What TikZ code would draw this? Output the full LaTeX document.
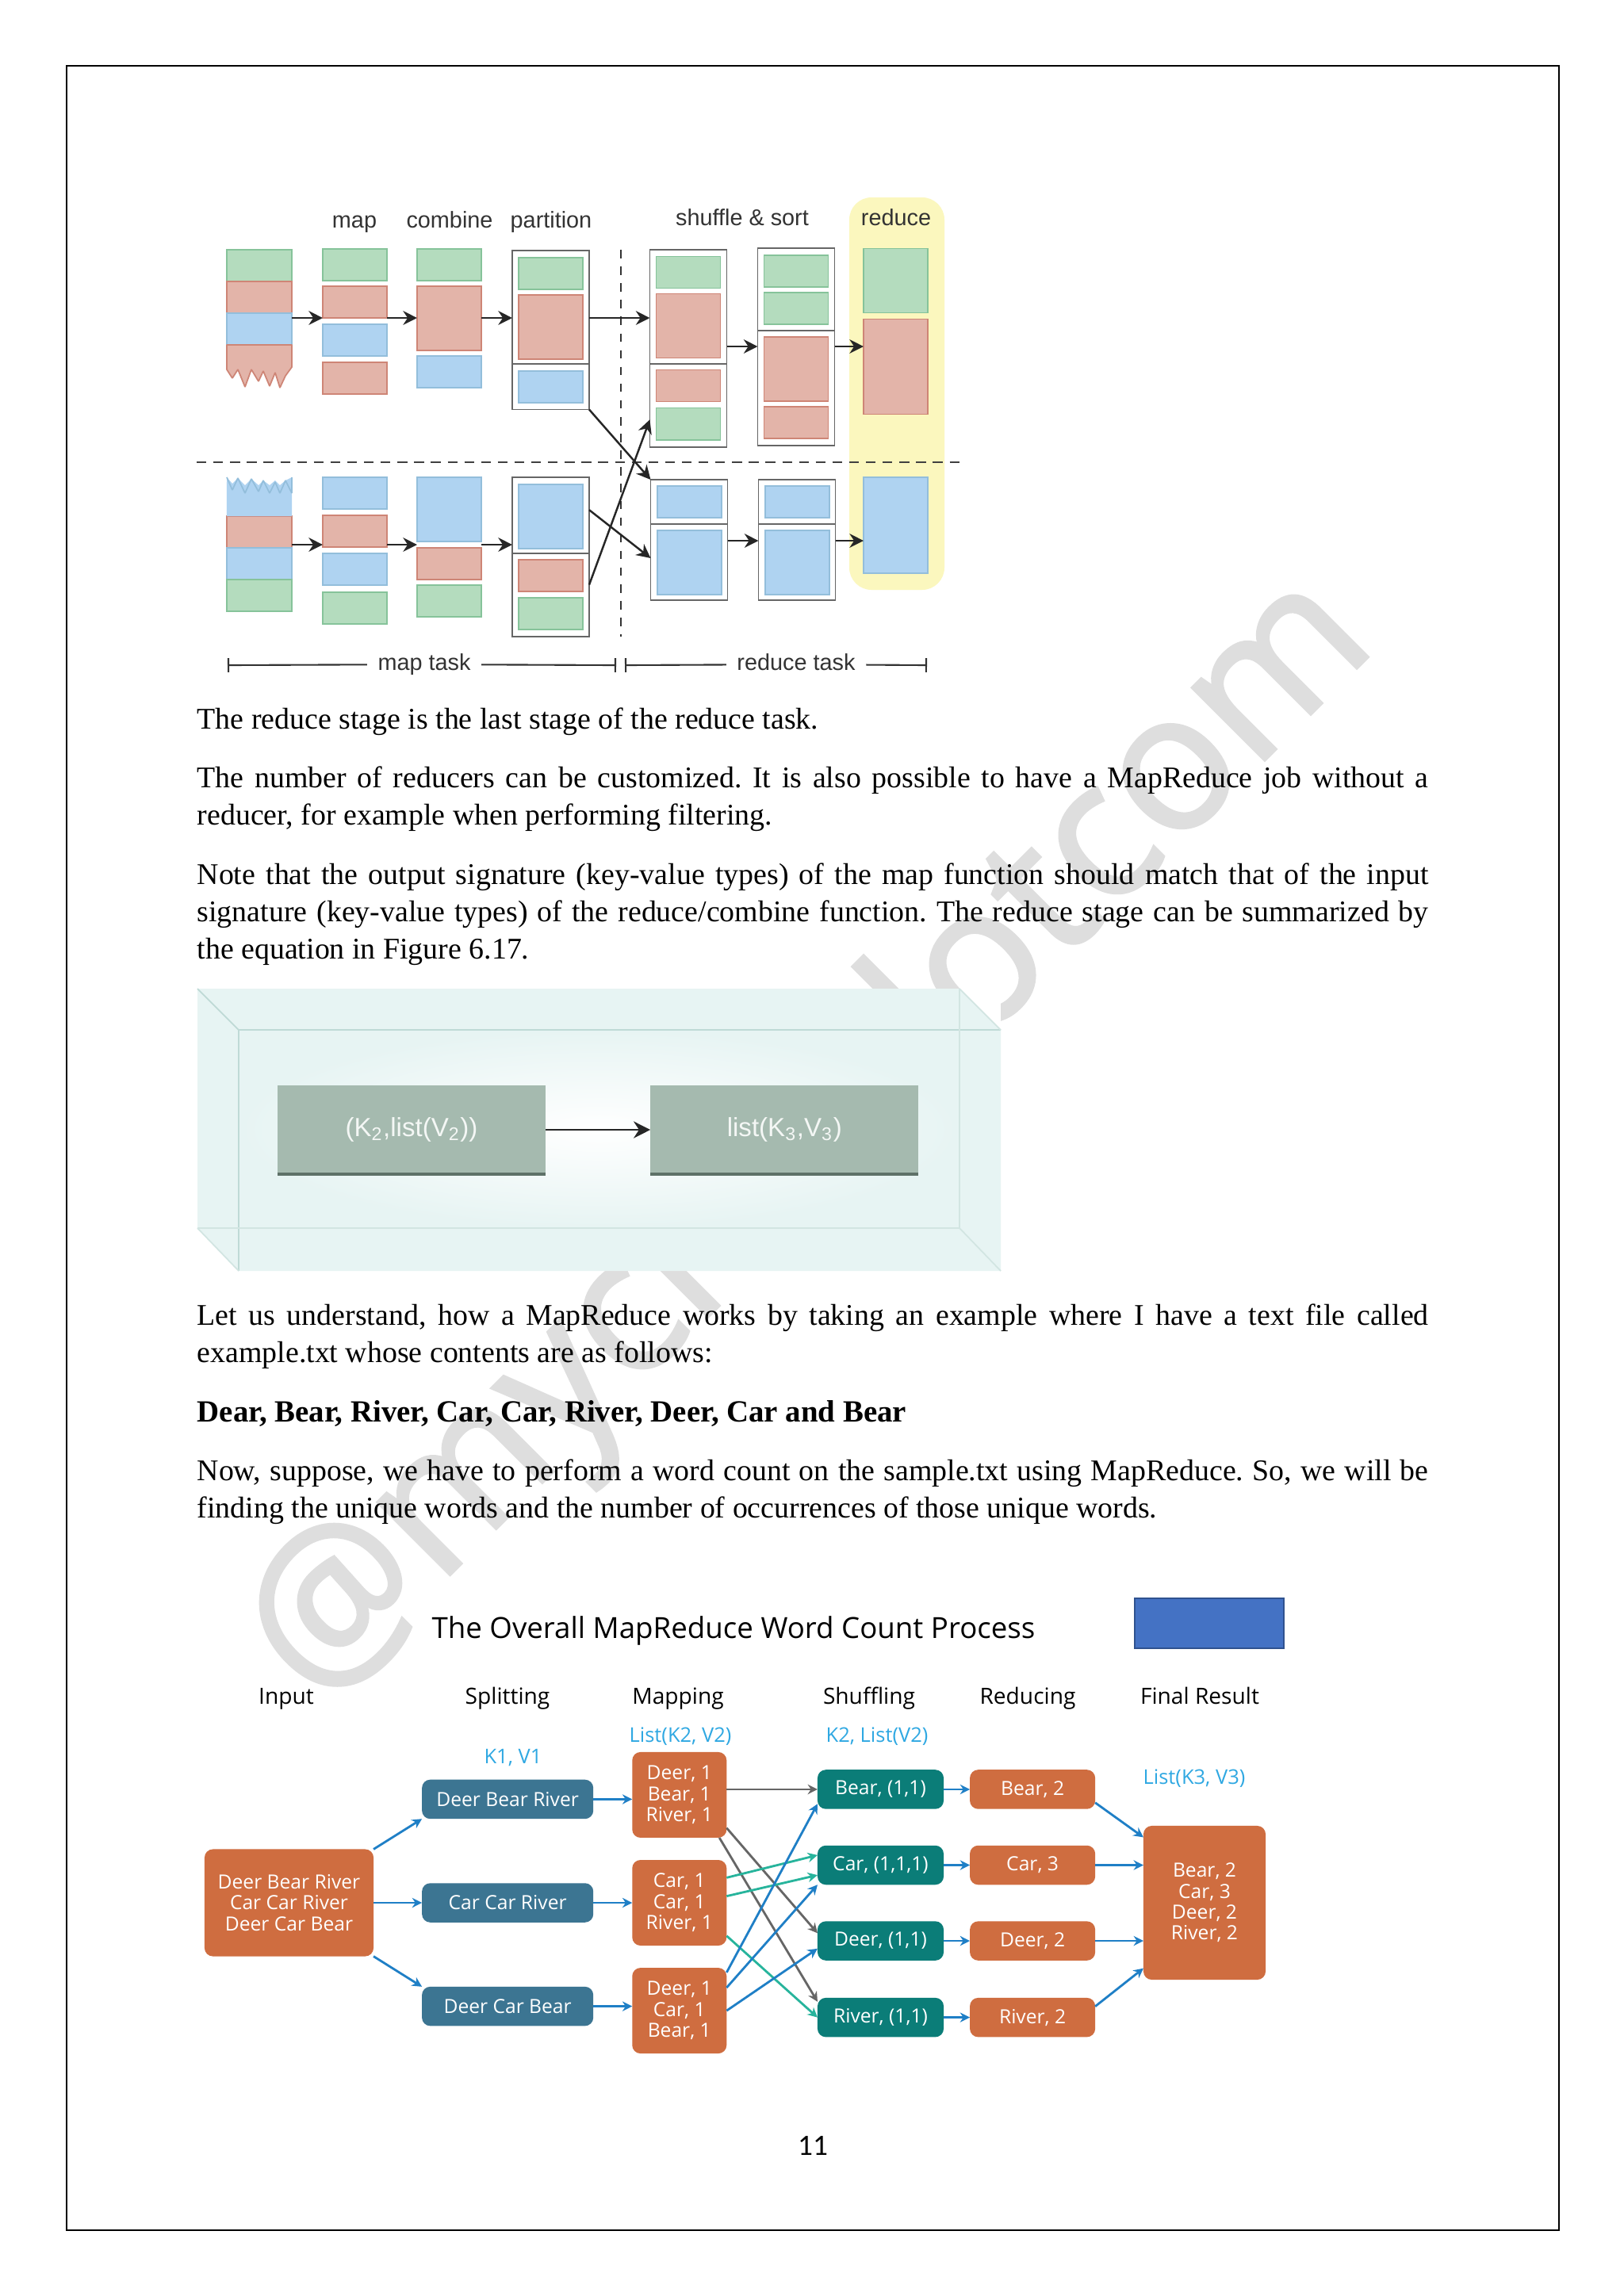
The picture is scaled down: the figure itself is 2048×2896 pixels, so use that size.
\documentclass[tikz,border=0pt]{standalone}
\usepackage{fontspec}
\setmainfont{Liberation Serif}
\newfontfamily\hvfont{Liberation Sans}
\newfontfamily\opfont{Open Sans}
\newfontfamily\cafont{Carlito}
\newfontfamily\wmfont[FakeBold=1.6]{Open Sans}
\usepackage{tikz}
\usetikzlibrary{positioning,arrows.meta}

\definecolor{gfill}{HTML}{B4DCBE}
\definecolor{gline}{HTML}{86C39A}
\definecolor{rfill}{HTML}{E3B4A9}
\definecolor{rline}{HTML}{CE8576}
\definecolor{bfill}{HTML}{AFD3F1}
\definecolor{bline}{HTML}{93BEDB}
\definecolor{paleyellow}{HTML}{FBF7BE}
\definecolor{glass}{HTML}{E7F4F3}
\definecolor{glassline}{HTML}{BFDAD6}
\definecolor{sage}{HTML}{A5BAAF}
\definecolor{sagedark}{HTML}{5E7168}
\definecolor{rust}{HTML}{CF6D40}
\definecolor{slate}{HTML}{3C7592}
\definecolor{deepteal}{HTML}{0B7D78}
\definecolor{flowblue}{HTML}{1F7FC6}
\definecolor{flowteal}{HTML}{27B49C}
\definecolor{flowgray}{HTML}{666666}
\definecolor{tagblue}{HTML}{2FA8E2}
\definecolor{patch}{HTML}{4472C4}
\definecolor{patchline}{HTML}{2F528F}
\definecolor{wmark}{HTML}{DEDEDE}

\begin{document}
\frenchspacing
\begin{tikzpicture}[x=.01cm,y=-.01cm,
        para/.style={anchor=north west,inner sep=0pt,text width=15.52cm,align=justify,font=\fontsize{10.77}{13.4}\selectfont},
        block/.style={rectangle,draw,outer sep=0pt,inner sep=0pt,minimum width=.81cm,minimum height=.4cm,line width=.5pt},
        gbox/.style={block,fill=gfill,draw=gline},
        rbox/.style={block,fill=rfill,draw=rline},
        bbox/.style={block,fill=bfill,draw=bline},
        tall/.style={minimum height=.81cm},
        frame/.style={rectangle,draw=black!60,fill=white,outer sep=0pt,inner sep=0pt,minimum width=.97cm,line width=.5pt},
        head/.style={font=\hvfont\fontsize{8.2}{9}\selectfont,text=black!80,inner sep=0pt,text height=6pt,text depth=1.7pt},
        darrow/.style={draw=black!85,line width=.7pt,-{Stealth[length=5pt,width=5pt]}},
        word/.style={rectangle,rounded corners=3pt,inner sep=0pt,outer sep=0pt,text=white,align=center,font=\opfont\fontsize{7}{7.5}\selectfont},
        orange/.style={word,fill=rust},
        split/.style={word,fill=slate,minimum width=2.16cm,minimum height=.495cm},
        mapped/.style={orange,minimum width=1.19cm,minimum height=1.08cm},
        shuffled/.style={word,fill=deepteal,minimum width=1.59cm,minimum height=.495cm},
        reduced/.style={orange,minimum width=1.58cm,minimum height=.495cm},
        stage/.style={font=\opfont\fontsize{8}{9}\selectfont,inner sep=0pt,text height=6pt,text depth=1.8pt},
        tag/.style={font=\opfont\fontsize{7.25}{8}\selectfont,text=tagblue,inner sep=0pt,text height=5.5pt,text depth=1.6pt},
        flow/.style={draw=flowblue,line width=.8pt,-{Stealth[length=3.5pt,width=3.5pt]}},
        grayflow/.style={flow,draw=flowgray},
        tealflow/.style={flow,draw=flowteal}]
        \path[use as bounding box,fill=white] (0,0) rectangle (2048,2896);
        \node[font=\wmfont\fontsize{68.5}{68}\selectfont,text=wmark,rotate=45,inner sep=0pt] (wm) at (1025,1440) {@mycloudotcom};
        \draw[line width=.7pt] (84,83) rectangle (1966,2813);

        \fill[paleyellow] (1071,249) [rounded corners=8pt] rectangle (1191,744);

        \node[gbox,minimum width=.82cm] (a1) at (327,335) {};
        \node[rbox,minimum width=.82cm] (a2) [below=0cm of a1] {};
        \node[bbox,minimum width=.82cm] (a3) [below=0cm of a2] {};
        \draw[rline,fill=rfill,line width=.5pt,line join=bevel] (a3.south west) -- (286,466) -- (293,477) -- (300,466) -- (309,488) -- (317,466) -- (326,481) -- (332,468) -- (340,487) -- (347,470) -- (353,489) -- (360,474) -- (368,463) -- (a3.south east) -- cycle;
        \node[gbox] (b1) at (447.5,334) {};
        \node[rbox] (b2) [below=.07cm of b1] {};
        \node[bbox] (b3) [below=.08cm of b2] {};
        \node[rbox] (b4) [below=.08cm of b3] {};
        \node[gbox] (c1) at (566.5,334) {};
        \node[rbox,tall] (c2) [below=.07cm of c1] {};
        \node[bbox] (c3) [below=.07cm of c2] {};
        \node[frame,minimum height=1.43cm] (p1) at (694.5,387.5) {};
        \node[frame,minimum height=.575cm] (p2) [below=0cm of p1] {};
        \node[gbox] (d1) at (694.5,345) {};
        \node[rbox,tall] (d2) [below=.07cm of d1] {};
        \node[bbox] (d3) [below=.15cm of d2] {};
        \node[frame,minimum height=1.44cm] (q1) at (868,387) {};
        \node[frame,minimum height=1.05cm] (q2) [below=0cm of q1] {};
        \node[gbox] (e1) at (868,343.5) {};
        \node[rbox,tall] (e2) [below=.07cm of e1] {};
        \node[rbox] (e3) [below=.15cm of e2] {};
        \node[gbox] (e4) [below=.08cm of e3] {};
        \node[frame,minimum height=1.04cm] (r1) at (1004,365) {};
        \node[frame,minimum height=1.45cm] (r2) [below=0cm of r1] {};
        \node[gbox] (f1) at (1004,342) {};
        \node[gbox] (f2) [below=.07cm of f1] {};
        \node[rbox,tall] (f3) [below=.16cm of f2] {};
        \node[rbox] (f4) [below=.07cm of f3] {};
        \node[gbox,tall] (g1) at (1129.5,354) {};
        \node[rbox,minimum height=1.2cm] (g2) [below=.08cm of g1] {};

        \node[rbox,minimum width=.82cm] (la2) at (327,671) {};
        \node[bbox,minimum width=.82cm] (la3) [below=0cm of la2] {};
        \node[gbox,minimum width=.82cm] (la4) [below=0cm of la3] {};
        \fill[bfill] (la2.north west) -- (286,602) -- (293,610) -- (300,603) -- (309,612) -- (317,604) -- (326,612) -- (332,606) -- (340,612) -- (347,606) -- (353,612) -- (360,606) -- (368,602) -- (la2.north east) -- cycle;
        \draw[bline,line width=.5pt,line join=bevel] (286,602) -- (293,618) -- (300,603) -- (309,622) -- (317,604) -- (326,620) -- (332,606) -- (340,622) -- (347,608) -- (353,622) -- (360,606) -- (368,622) -- (368,602);
        \node[bbox] (lb1) at (447.5,622) {};
        \node[rbox] (lb2) [below=.08cm of lb1] {};
        \node[bbox] (lb3) [below=.08cm of lb2] {};
        \node[gbox] (lb4) [below=.09cm of lb3] {};
        \node[bbox,tall] (lc1) at (566.5,642.5) {};
        \node[rbox] (lc2) [below=.08cm of lc1] {};
        \node[gbox] (lc3) [below=.07cm of lc2] {};
        \node[frame,minimum height=.96cm] (lp1) at (694.5,650) {};
        \node[frame,minimum height=1.05cm] (lp2) [below=0cm of lp1] {};
        \node[bbox,tall] (ld1) at (694.5,651.5) {};
        \node[rbox] (ld2) [below=.14cm of ld1] {};
        \node[gbox] (ld3) [below=.08cm of ld2] {};
        \node[frame,minimum height=.56cm] (lq1) at (869,633) {};
        \node[frame,minimum height=.96cm] (lq2) [below=0cm of lq1] {};
        \node[bbox] (le1) at (869.5,633) {};
        \node[bbox,tall] (le2) [below=.16cm of le1] {};
        \node[frame,minimum height=.56cm] (lr1) at (1005,633) {};
        \node[frame,minimum height=.96cm] (lr2) [below=0cm of lr1] {};
        \node[bbox] (lf1) at (1005.5,633) {};
        \node[bbox,tall] (lf2) [below=.16cm of lf1] {};
        \node[bbox,minimum height=1.21cm] (lg) at (1129.5,662.5) {};

        \draw[dashed,black!80,line width=.5pt] (783,315) -- (783,803);
        \draw[dash pattern=on 3.5pt off 2.5pt,black!75,line width=.6pt] (248,583) -- (1210,583);

        \coordinate (u) at (0,401);
        \coordinate (v) at (0,437);
        \coordinate (w) at (0,687);
        \coordinate (z) at (0,682);
        \foreach \x/\y in {a2/b2,b2/c2,c2/p1,p1/q1}{
            \draw[darrow] (\x.east |- u) -- (\y.west |- u);
        }
        \foreach \x/\y in {q1/r2,r2/g2}{
            \draw[darrow] (\x.east |- v) -- (\y.west |- v);
        }
        \foreach \x/\y in {la2/lb2,lb2/lc1,lc1/lp1}{
            \draw[darrow] (\x.east |- w) -- (\y.west |- w);
        }
        \foreach \x/\y in {lq2/lr2,lr2/lg}{
            \draw[darrow] (\x.east |- z) -- (\y.west |- z);
        }
        \draw[darrow] (p2.south east) -- (lq1.north west);
        \draw[darrow] (lp1.8) -- (lq2.174);
        \draw[darrow] (lp2.15) -- (q2.200);

        \node[head] (h1) at (447,280) {map};
        \node[head] (h2) at (567,280) {combine};
        \node[head] (h3) at (695,280) {partition};
        \node[head] (h4) at (936,277) {shuffle \& sort};
        \node[head] (h5) at (1130,277) {reduce};
        \node[head,inner xsep=.13cm] (mt) at (535,838) {map task};
        \node[head,inner xsep=.13cm] (rt) at (1004,838) {reduce task};
        \coordinate (m0) at (287,839);
        \coordinate (m1) at (777,839);
        \coordinate (r0) at (788,839);
        \coordinate (r3) at (1169,839);
        \draw[black!80,line width=.6pt,{Bar[width=5pt]}-] (m0) -- (mt);
        \draw[black!80,line width=.6pt,-{Bar[width=5pt]}] (mt) -- (m1);
        \draw[black!80,line width=.6pt,{Bar[width=5pt]}-] (r0) -- (rt);
        \draw[black!80,line width=.6pt,-{Bar[width=5pt]}] (rt) -- (r3);

        \node[para] (t1) at (248,892) {The reduce stage is the last stage of the reduce task.};
        \node[para] (t2) [below=.38cm of t1] {The number of reducers can be customized. It is also possible to have a MapReduce job without a\linebreak reducer, for example when performing filtering.};
        \node[para] (t3) [below=.38cm of t2] {Note that the output signature (key-value types) of the map function should match that of the input\linebreak signature (key-value types) of the reduce/combine function. The reduce stage can be summarized by\linebreak the equation in Figure 6.17.};

        \fill[white] (249,1247) rectangle (1262,1603);
        \fill[glass] (249,1247) -- (1210,1247) -- (1262,1299) -- (1262,1603) -- (301,1603) -- (249,1549) -- cycle;
        \shade[inner color=white,outer color=glass] (301,1299) rectangle (1210,1549);
        \draw[glassline,line width=.5pt] (249,1247) -- (301,1299) -- (1262,1299);
        \draw[glassline,line width=.5pt] (301,1299) -- (301,1603);
        \draw[glassline!70,line width=.5pt] (249,1549) -- (1210,1549) -- (1262,1603);
        \draw[glassline!70,line width=.5pt] (1210,1247) -- (1210,1549);
        \draw[glassline!70,line width=.5pt] (1210,1247) -- (1262,1299);
        \draw[glassline!70,line width=.5pt] (249,1549) -- (301,1603);
        \node[rectangle,fill=sage,text=white!88!sage,minimum width=3.38cm,minimum height=1.12cm,inner sep=0pt,outer sep=0pt,font=\hvfont\fontsize{9.4}{10}\selectfont] (k2) at (519,1425) {(K\textsubscript{2},list(V\textsubscript{2}))};
        \node[rectangle,fill=sage,text=white!88!sage,minimum width=3.38cm,minimum height=1.12cm,inner sep=0pt,outer sep=0pt,font=\hvfont\fontsize{9.4}{10}\selectfont] (k3) [right=1.32cm of k2] {list(K\textsubscript{3},V\textsubscript{3})};
        \draw[sagedark,line width=1pt] (k2.south west) -- (k2.south east);
        \draw[sagedark,line width=1pt] (k3.south west) -- (k3.south east);
        \draw[black!85,line width=.8pt,-{Stealth[length=6pt,width=6pt]}] (k2.east) -- (k3.west);

        \node[para] (t4) at (248,1644) {Let us understand, how a MapReduce works by taking an example where I have a text file called\linebreak example.txt whose contents are as follows:};
        \node[para,font=\fontsize{11.05}{13.4}\selectfont\bfseries] (t5) [below=.39cm of t4] {Dear, Bear, River, Car, Car, River, Deer, Car and Bear};
        \node[para] (t6) [below=.39cm of t5] {Now, suppose, we have to perform a word count on the sample.txt using MapReduce. So, we will be\linebreak finding the unique words and the number of occurrences of those unique words.};

        \node[font=\opfont\fontsize{10.43}{11}\selectfont,inner sep=0pt] (title) at (925,2057) {The Overall MapReduce Word Count Process};
        \node[rectangle,fill=patch,draw=patchline,line width=.7pt,minimum width=1.88cm,minimum height=.63cm,inner sep=0pt] (patch) at (1525,2047.5) {};
        \node[stage] (l1) at (361,2142) {Input};
        \node[stage] (l2) at (640,2142) {Splitting};
        \node[stage] (l3) at (855,2142) {Mapping};
        \node[stage] (l4) at (1096,2142) {Shuffling};
        \node[stage] (l5) at (1296,2142) {Reducing};
        \node[stage] (l6) at (1513,2142) {Final Result};
        \node[tag] (n1) at (647,2218) {K1, V1};
        \node[tag] (n2) at (858,2191) {List(K2, V2)};
        \node[tag] (n3) at (1106,2191) {K2, List(V2)};
        \node[tag] (n4) at (1506,2244) {List(K3, V3)};

        \node[orange,minimum width=2.13cm,minimum height=1.35cm] (i) at (364.5,2400) {Deer Bear River\\Car Car River\\Deer Car Bear};
        \node[split] (s2) [right=.61cm of i] {Car Car River};
        \node[split] (s1) [above=.81cm of s2] {Deer Bear River};
        \node[split] (s3) [below=.81cm of s2] {Deer Car Bear};
        \node[mapped] (m2) [right=.49cm of s2] {Car, 1\\Car, 1\\River, 1};
        \node[mapped] (m1) [above=.28cm of m2] {Deer, 1\\Bear, 1\\River, 1};
        \node[mapped] (m3) [below=.28cm of m2] {Deer, 1\\Car, 1\\Bear, 1};
        \node[shuffled] (y2) at (1110.5,2352.5) {Car, (1,1,1)};
        \node[shuffled] (y1) [above=.46cm of y2] {Bear, (1,1)};
        \node[shuffled] (y3) [below=.46cm of y2] {Deer, (1,1)};
        \node[shuffled] (y4) [below=.47cm of y3] {River, (1,1)};
        \node[reduced] (x1) [right=.33cm of y1] {Bear, 2};
        \node[reduced] (x2) [right=.33cm of y2] {Car, 3};
        \node[reduced] (x3) [right=.33cm of y3] {Deer, 2};
        \node[reduced] (x4) [right=.33cm of y4] {River, 2};
        \node[orange,minimum width=1.54cm,minimum height=1.94cm] (f) at (1519,2400) {Bear, 2\\Car, 3\\Deer, 2\\River, 2};

        \draw[flow] (i.north east) -- (s1.south west);
        \draw[flow] (i) -- (s2);
        \draw[flow] (i.south east) -- (s3.north west);
        \foreach \x in {1,2,3}{
            \draw[flow] (s\x.east) -- (s\x.east -| m\x.west);
        }
        \draw[grayflow] (m1.east |- y1) -- (y1.west);
        \draw[grayflow] (m1.-35) -- (y3.173);
        \draw[grayflow] (m1.-47) -- (y4.166);
        \draw[tealflow] (m2.28) -- (y2.171);
        \draw[tealflow] (m2.8) -- (y2.189);
        \draw[tealflow] (m2.-35) -- (y4.west);
        \draw[flow] (m3.39) -- (y1.193);
        \draw[flow] (m3.26) -- (y2.south west);
        \draw[flow] (m3.east) -- (y3.187);
        \foreach \x in {1,2,3,4}{
            \draw[flow] (y\x) -- (x\x);
        }
        \draw[flow] (x1.-12) -- (f.133);
        \draw[flow] (x2) -- (x2 -| f.west);
        \draw[flow] (x3) -- (x3 -| f.west);
        \draw[flow] (x4.10) -- (f.227);

        \node[font=\cafont\fontsize{10.6}{12}\selectfont,inner sep=0pt] (pg) at (1025,2706) {11};
    \end{tikzpicture}
\end{document}
